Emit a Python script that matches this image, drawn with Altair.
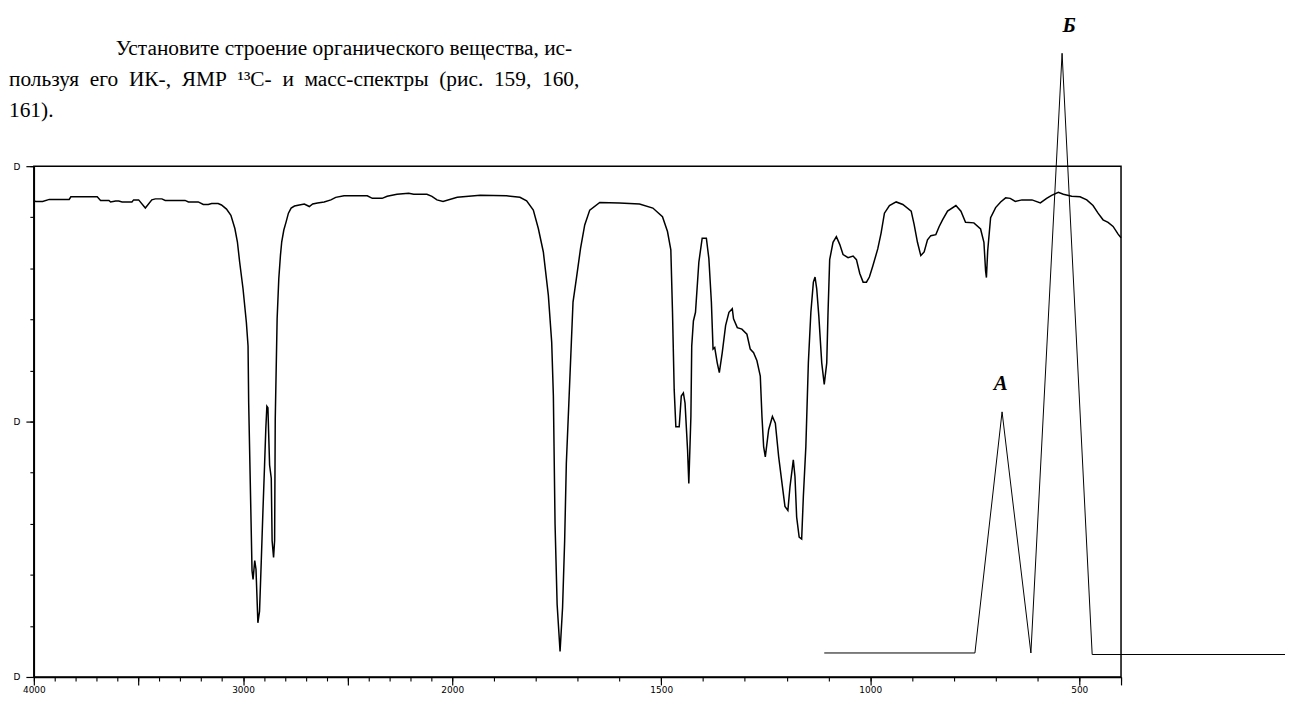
import altair as alt
import pandas as pd

# IR spectrum: wavenumber (cm-1) and transmittance (%)
ir_w = [4000, 3990, 3958, 3926, 3831, 3823, 3697, 3681, 3641, 3633, 3609, 3594, 3578, 3531, 3523,
        3499, 3467, 3436, 3419, 3388, 3372, 3277, 3261, 3214, 3190, 3166, 3150, 3119, 3103, 3079,
        3058, 3039, 3027, 3016, 3000, 2984, 2976, 2973, 2963, 2957, 2952, 2944, 2938, 2932, 2929,
        2921, 2913, 2905, 2897, 2891, 2886, 2881, 2878, 2873, 2865, 2861, 2854, 2849, 2846, 2837,
        2829, 2821, 2815, 2805, 2794, 2783, 2770, 2754, 2731, 2707, 2683, 2667, 2644, 2612, 2580,
        2557, 2517, 2406, 2382, 2335, 2311, 2264, 2208, 2184, 2121, 2097, 2073, 2044,
        1988, 1933, 1870, 1838, 1822, 1806, 1794, 1782, 1770, 1762, 1758, 1754, 1749, 1742, 1736,
        1731, 1727, 1721, 1715, 1711, 1703, 1693, 1683, 1671, 1647, 1600, 1552, 1520, 1497, 1485,
        1477, 1473, 1469, 1465, 1457, 1452, 1447, 1443, 1437, 1434, 1429, 1427, 1423, 1418, 1410,
        1402, 1392, 1386, 1380, 1376, 1372, 1366, 1361, 1354, 1346, 1338, 1330, 1327, 1318, 1307,
        1295, 1287, 1279, 1271, 1263, 1259, 1255, 1251, 1243, 1234, 1227, 1219, 1211, 1204, 1197,
        1192, 1184, 1180, 1176, 1170, 1164, 1160, 1154, 1148, 1142, 1136, 1132, 1128, 1123, 1116,
        1110, 1104, 1101, 1097, 1089, 1081, 1073, 1065, 1053, 1041, 1033, 1025, 1017, 1009, 1002,
        994, 982, 974, 966, 954, 938, 922, 902, 895, 887, 879, 871, 863, 855, 843, 835, 827, 815,
        795, 783, 772, 752, 736, 728, 724, 722, 719, 712, 700, 688, 676, 665, 653, 637, 613, 593,
        578, 566, 550, 538, 518, 498, 482, 467, 455, 443, 431, 419, 407, 400]
ir_t = [93.2, 93.1, 93.1, 93.5, 93.5, 94.0, 94.0, 93.3, 93.3, 93.0, 93.2, 93.2, 93.0, 93.0, 93.4,
        93.4, 91.8, 93.4, 93.6, 93.6, 93.3, 93.3, 93.0, 93.0, 92.5, 92.5, 92.7, 92.7, 92.4, 91.6,
        90.4, 87.8, 85.2, 81.2, 76.0, 69.4, 64.8, 53.7, 33.3, 20.8, 19.1, 22.8, 21.1, 14.2, 10.6,
        12.9, 22.4, 32.3, 41.5, 48.7, 53.0, 52.7, 48.4, 41.5, 38.9, 26.7, 23.4, 26.7, 50.4, 70.1,
        78.0, 82.6, 85.2, 87.5, 89.1, 90.8, 91.8, 92.2, 92.4, 92.6, 92.1, 92.6, 92.8, 93.0, 93.4,
        93.9, 94.2, 94.2, 93.7, 93.7, 94.1, 94.5, 94.7, 94.5, 94.5, 94.1, 93.4, 93.1,
        93.9, 94.3, 94.2, 93.9, 93.2, 91.4, 87.8, 83.2, 74.7, 65.5, 55.0, 30.0, 14.2, 5.0, 13.6,
        26.7, 41.8, 53.6, 65.5, 73.4, 78.0, 83.9, 88.5, 91.4, 92.9, 92.8, 92.6, 91.8, 90.1, 87.2,
        83.6, 71.4, 56.3, 49.0, 49.0, 55.0, 55.6, 53.6, 44.5, 37.9, 51.0, 64.8, 69.7, 71.4, 81.2,
        85.9, 85.9, 81.9, 73.4, 64.2, 64.5, 61.5, 59.6, 63.5, 68.8, 71.4, 72.1, 70.1, 68.4, 68.1,
        67.1, 64.2, 63.5, 61.9, 58.9, 51.0, 45.1, 43.1, 48.4, 51.0, 49.7, 43.1, 37.9, 33.4, 32.6,
        37.2, 42.5, 39.2, 31.3, 27.4, 27.0, 35.3, 45.1, 61.5, 71.4, 77.3, 78.3, 76.0, 70.7, 61.5,
        57.3, 61.5, 71.2, 81.7, 85.1, 86.2, 84.7, 82.7, 82.1, 82.4, 81.7, 79.0, 77.3, 77.3, 78.3,
        80.4, 83.8, 86.9, 90.8, 92.3, 93.0, 92.5, 91.2, 88.6, 85.1, 82.5, 83.2, 85.6, 86.4, 86.6,
        88.2, 89.5, 91.2, 92.3, 91.2, 89.0, 88.9, 87.7, 85.1, 79.5, 78.2, 83.4, 89.9, 91.9, 93.0,
        93.8, 93.7, 93.1, 93.4, 93.4, 92.8, 93.7, 94.3, 94.9, 94.5, 94.1, 94.0, 93.4, 92.3, 90.8,
        89.5, 89.0, 88.2, 86.7, 86.0]

# Overlaid triangle sketch with the two peaks A and Б (same axes units)
tri_w = [1110, 749.5, 684.6, 615.6, 541, 469, 7.7]
tri_t = [4.7, 4.7, 51.9, 4.7, 122.1, 4.4, 4.4]

peak_labels = ["А", "Б"]
peak_w = [688, 524]
peak_t = [57.4, 127.5]

x_major = [4000, 3500, 3000, 2500, 2000, 1500, 1000, 500, 400]
x_labeled = [4000, 3000, 2000, 1500, 1000, 500]
x_minor = list(range(4000, 399, -100))
y_major = [0, 50, 100]
y_minor = list(range(0, 101, 10))

line1 = "Установите строение органического вещества, ис-"
line2 = "пользуя его ИК-, ЯМР ¹³С- и масс-спектры (рис. 159, 160,"
line3 = "161)."
# justified-looking text: indent first line, widen word gaps of the second
paragraph = [
    "\u200b" + "\u00a0" * 20 + line1,
    line2.replace(" ", " \u00a0"),
    line3,
]

ir_df = pd.DataFrame({"w": ir_w, "t": ir_t, "i": range(len(ir_w))})
tri_df = pd.DataFrame({"w": tri_w, "t": tri_t, "i": range(len(tri_w))})
lab_df = pd.DataFrame({"label": peak_labels, "w": peak_w, "t": peak_t})

xs = alt.Scale(domain=[4000, 2000, 400], range=[0, 421, 1094], nice=False, zero=False)
ys = alt.Scale(domain=[0, 100], nice=False, zero=False)

label_expr = "indexof(" + str(x_labeled) + ", datum.value) >= 0 ? datum.value : ''"

x_axis_major = alt.Axis(values=x_major, labelExpr=label_expr, tickSize=8, tickWidth=1.2,
                        labelFontSize=9, labelFont="DejaVu Sans", labelPadding=1,
                        labelOverlap=False, labelFlush=False, domain=True, domainWidth=1.5,
                        grid=False, title=None, orient="bottom")
x_axis_minor = alt.Axis(values=x_minor, labels=False, tickSize=4, tickWidth=1.1, domain=False,
                        grid=False, title=None, orient="bottom")
y_axis_major = alt.Axis(values=y_major, labelExpr="'D'", tickSize=8, tickWidth=1.2,
                        labelFontSize=9, labelFont="DejaVu Sans", labelPadding=6,
                        labelOverlap=False, labelFlush=False, domain=True, domainWidth=1.5,
                        grid=False, title=None, orient="left")
y_axis_minor = alt.Axis(values=y_minor, labels=False, tickSize=4, tickWidth=1.1, domain=False,
                        grid=False, title=None, orient="left")

ir_line = alt.Chart(ir_df).mark_line(color="black", strokeWidth=1.5).encode(
    x=alt.X("w:Q", scale=xs, axis=x_axis_major),
    y=alt.Y("t:Q", scale=ys, axis=y_axis_major),
    order="i:Q",
)

tri_line = alt.Chart(tri_df).mark_line(color="black", strokeWidth=1, clip=False).encode(
    x=alt.X("w:Q", scale=xs, axis=x_axis_minor),
    y=alt.Y("t:Q", scale=ys, axis=y_axis_minor),
    order="i:Q",
)

labels = alt.Chart(lab_df).mark_text(
    font="Liberation Serif", fontSize=21, fontWeight="bold", fontStyle="italic",
    color="black", baseline="middle", align="center", clip=False,
).encode(
    x=alt.X("w:Q", scale=xs, axis=None),
    y=alt.Y("t:Q", scale=ys, axis=None),
    text="label:N",
)

chart = alt.layer(ir_line, tri_line, labels).resolve_axis(
    x="independent", y="independent"
).properties(
    width=1094,
    height=514,
    padding={"left": 26, "top": 157, "right": 165, "bottom": 22},
    autosize=alt.AutoSizeParams(type="none"),
    title=alt.TitleParams(
        text=paragraph, font="Liberation Serif", fontSize=21.5, fontWeight="normal",
        color="black", anchor="start", frame="group", dx=-25, offset=0, dy=107,
        lineHeight=31,
    ),
).configure_view(
    stroke="black", strokeWidth=1.5
).configure_axis(
    domainColor="black", tickColor="black", labelColor="black"
)

chart.save("out.html", embed_options={"renderer": "svg", "actions": False})
